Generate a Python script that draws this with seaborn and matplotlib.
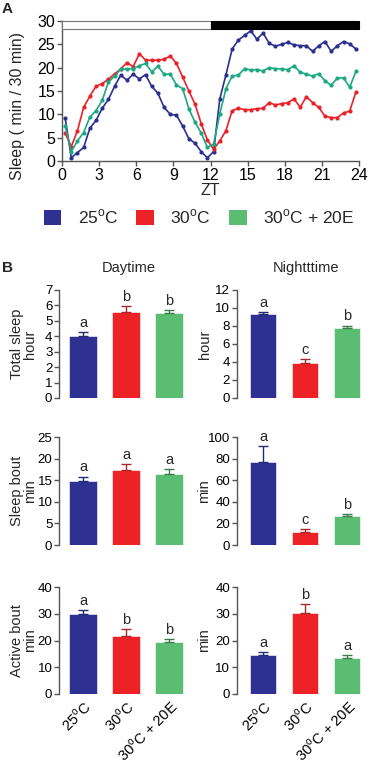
import numpy as np
import pandas as pd
import seaborn as sns
import matplotlib.pyplot as plt
from matplotlib.patches import Rectangle, Patch

sns.set_style('ticks')
plt.rcParams['font.family'] = ['Liberation Sans', 'DejaVu Sans']
plt.rcParams['mathtext.fontset'] = 'custom'
plt.rcParams['mathtext.rm'] = 'Liberation Sans'

# ---- data: sleep profile (min / 30 min), one point per 30 min bin ----
zt = np.arange(0.25, 24, 0.5)
sleep_25 = [9.3, 0.7, 1.8, 2.9, 7.0, 8.7, 11.3, 13.2, 16.0, 18.4, 17.3, 18.6,
            17.6, 18.5, 16.0, 14.5, 11.5, 10.0, 9.8, 7.5, 4.8, 3.8, 2.0, 0.7,
            2.0, 13.3, 18.5, 24.0, 25.9, 26.9, 27.9, 26.1, 27.4, 25.2, 24.6, 25.0,
            25.4, 24.9, 24.7, 24.7, 23.5, 24.7, 25.6, 23.5, 24.7, 25.6, 25.1, 24.0]
sleep_30 = [6.0, 3.1, 6.5, 11.5, 13.9, 16.0, 16.6, 17.5, 18.7, 19.7, 21.1, 20.2,
            23.0, 21.6, 21.6, 21.6, 21.8, 22.5, 20.9, 18.0, 15.0, 12.2, 8.0, 4.5,
            2.5, 4.3, 6.5, 10.8, 11.3, 11.0, 11.0, 11.2, 11.3, 12.5, 12.0, 12.3,
            12.5, 13.3, 11.5, 13.8, 12.5, 11.5, 9.6, 9.3, 9.3, 10.3, 10.7, 14.8]
sleep_30e = [7.6, 2.0, 4.3, 6.1, 9.4, 10.8, 13.0, 16.9, 18.2, 19.7, 19.7, 19.8,
             20.4, 20.9, 19.1, 20.3, 18.6, 18.6, 16.3, 15.5, 11.2, 8.3, 6.0, 2.9,
             3.6, 10.1, 15.5, 18.2, 18.4, 19.8, 19.5, 19.6, 19.3, 20.0, 19.8, 19.7,
             19.6, 20.4, 19.0, 18.6, 18.2, 18.7, 17.2, 16.2, 17.8, 17.8, 15.8, 19.2]

groups = ['25$^{\\mathrm{o}}$C', '30$^{\\mathrm{o}}$C', '30$^{\\mathrm{o}}$C + 20E']

# ---- data: bar panels (mean, upper SEM, letters) ----
total_day = [4.05, 5.6, 5.48]
total_day_err = [0.22, 0.35, 0.25]
total_night = [9.3, 3.9, 7.75]
total_night_err = [0.3, 0.4, 0.3]
bout_day = [14.9, 17.4, 16.4]
bout_day_err = [0.95, 1.4, 1.2]
bout_night = [77.0, 12.2, 26.6]
bout_night_err = [14.7, 2.2, 1.8]
active_day = [29.9, 21.6, 19.5]
active_day_err = [1.5, 2.8, 1.2]
active_night = [14.7, 30.3, 13.4]
active_night_err = [0.9, 3.4, 1.1]

letters_total_day = ['a', 'b', 'b']
letters_total_night = ['a', 'c', 'b']
letters_bout_day = ['a', 'a', 'a']
letters_bout_night = ['a', 'c', 'b']
letters_active_day = ['a', 'b', 'b']
letters_active_night = ['a', 'b', 'a']

line_colors = ['#2b2f8e', '#ea2228', '#1ba883']
bar_colors = ['#2e3192', '#ec2227', '#5bbd72']
err_colors = ['#262a70', '#a8282c', '#3c7d4c']
spine_col = '#555555'

W, H = 370, 767
fig = plt.figure(figsize=(W / 100, H / 100), dpi=100)


def px_axes(l, t, r, b):
    return fig.add_axes([l / W, 1 - b / H, (r - l) / W, (b - t) / H])


def style_ax(ax):
    for s in ['left', 'bottom']:
        ax.spines[s].set_color(spine_col)
        ax.spines[s].set_linewidth(1.0)
    ax.tick_params(colors='black', labelsize=9.5, length=3.5, width=1.0,
                   color=spine_col, pad=1.5)


# ---------------- panel A ----------------
ax = px_axes(62, 21, 359, 161)
profile = pd.DataFrame({
    'ZT': np.concatenate([zt, zt, zt]),
    'sleep': sleep_25 + sleep_30 + sleep_30e,
    'group': [groups[0]] * 48 + [groups[1]] * 48 + [groups[2]] * 48,
})
sns.lineplot(data=profile, x='ZT', y='sleep', hue='group', hue_order=groups,
             palette=line_colors, marker='o', markersize=3, markeredgewidth=0,
             linewidth=1.2, legend=False, ax=ax)
ax.add_patch(Rectangle((0, 28.2), 12, 1.8, facecolor='white', edgecolor='#777777',
                       linewidth=0.8, zorder=5, clip_on=False))
ax.add_patch(Rectangle((12, 28.2), 12, 1.8, facecolor='black', edgecolor='black',
                       linewidth=0.8, zorder=5, clip_on=False))
ax.set_xlim(0, 24)
ax.set_ylim(0, 30)
ax.set_xticks(range(0, 25, 3))
ax.set_yticks(range(0, 31, 5))
sns.despine(ax=ax)
style_ax(ax)
ax.tick_params(labelsize=11.5)
ax.set_xlabel('ZT', fontsize=11.5, labelpad=0)
ax.set_ylabel('Sleep ( min / 30 min)', fontsize=11.5)
ax.yaxis.set_label_coords(-0.125, 0.39)
fig.text(2 / W, 1 - 9 / H, 'A', fontsize=11, fontweight='bold', va='center')

handles = [Patch(facecolor=c, edgecolor='none') for c in bar_colors]
fig.legend(handles, groups, loc='center', bbox_to_anchor=(199 / W, 1 - 217 / H),
           ncol=3, frameon=False, fontsize=12.5, handlelength=1.0, handleheight=1.0,
           handletextpad=0.95, columnspacing=1.05, borderpad=0.1)

# ---------------- panel B ----------------
fig.text(2 / W, 1 - 268 / H, 'B', fontsize=11, fontweight='bold', va='center')
fig.text(129 / W, 1 - 268 / H, 'Daytime', fontsize=10.5, ha='center', va='center')
fig.text(306 / W, 1 - 268 / H, 'Nightttime', fontsize=10.5, ha='center', va='center')


def bar_panel(ax, means, errs, letters, ymax, ystep, ylabel, xlim, lab_x, show_x):
    df = pd.DataFrame({'group': groups, 'value': means})
    sns.barplot(data=df, x='group', y='value', hue='group', order=groups,
                hue_order=groups, palette=bar_colors, saturation=1, width=0.63,
                errorbar=None, legend=False, ax=ax, edgecolor='white', linewidth=0.4)
    for i in range(3):
        ax.errorbar(i, means[i], yerr=[[0], [errs[i]]], fmt='none',
                    ecolor=err_colors[i], elinewidth=1.0, capsize=3.5, capthick=1.0)
        ax.annotate(letters[i], (i, means[i] + errs[i]), xytext=(0, 1.5),
                    textcoords='offset points', ha='center', va='bottom',
                    fontsize=10.5)
    ax.set_xlim(*xlim)
    ax.set_ylim(0, ymax)
    ax.set_yticks(np.arange(0, ymax + 0.01, ystep))
    sns.despine(ax=ax, bottom=True)
    style_ax(ax)
    ax.set_ylabel(ylabel, fontsize=10.5, linespacing=0.95)
    ax.yaxis.set_label_coords(lab_x, 0.5)
    ax.set_xlabel('')
    if show_x:
        ax.tick_params(axis='x', length=0, pad=3)
        ax.set_xticks(range(3))
        ax.set_xticklabels(groups, rotation=45, ha='right', rotation_mode='anchor',
                           fontsize=10.5)
    else:
        ax.set_xticks([])


left_x = (59.3, 190.5)
right_x = (237, 368)
xl_left = (-0.55, 2.5)
xl_right = (-0.62, 2.5)
rows = [(290, 398), (437, 545), (587, 694)]

bar_panel(px_axes(left_x[0], rows[0][0], left_x[1], rows[0][1]), total_day,
          total_day_err, letters_total_day, 7, 1, 'Total sleep\nhour', xl_left, -0.17, False)
bar_panel(px_axes(right_x[0], rows[0][0], right_x[1], rows[0][1]), total_night,
          total_night_err, letters_total_night, 12, 2, 'hour', xl_right, -0.19, False)
bar_panel(px_axes(left_x[0], rows[1][0], left_x[1], rows[1][1]), bout_day,
          bout_day_err, letters_bout_day, 25, 5, 'Sleep bout\nmin', xl_left, -0.17, False)
bar_panel(px_axes(right_x[0], rows[1][0], right_x[1], rows[1][1]), bout_night,
          bout_night_err, letters_bout_night, 100, 20, 'min', xl_right, -0.2, False)
bar_panel(px_axes(left_x[0], rows[2][0], left_x[1], rows[2][1]), active_day,
          active_day_err, letters_active_day, 40, 10, 'Active bout\nmin', xl_left, -0.17, True)
bar_panel(px_axes(right_x[0], rows[2][0], right_x[1], rows[2][1]), active_night,
          active_night_err, letters_active_night, 40, 10, 'min', xl_right, -0.2, True)

fig.savefig('out.png', dpi=100)
